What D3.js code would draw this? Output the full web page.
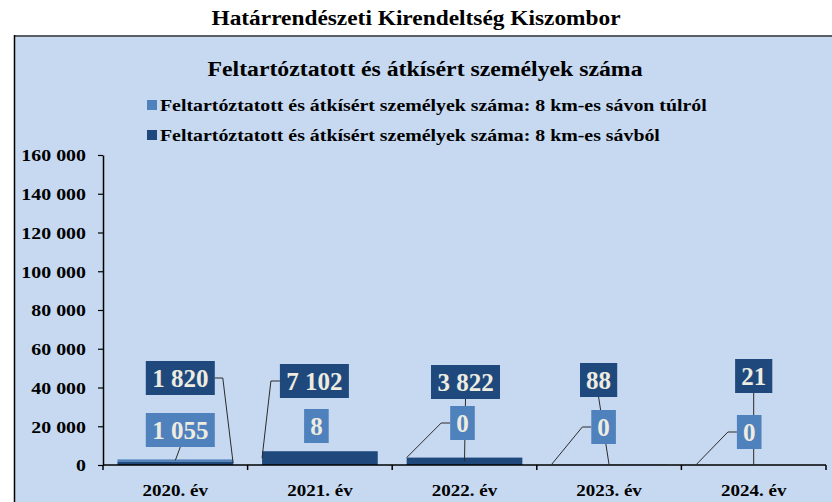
<!DOCTYPE html>
<html>
<head>
<meta charset="utf-8">
<script src="https://cdn.jsdelivr.net/npm/d3@7"></script>
<style>
  body { margin: 0; background: #fff; }
  svg text { font-family: "Liberation Serif", "Times New Roman", serif; font-weight: bold; }
</style>
</head>
<body>
<div id="chart"></div>
<script>
// Adatok
const years = ["2020. év", "2021. év", "2022. év", "2023. év", "2024. év"];
const outerZone = [1055, 8, 0, 0, 0];      // 8 km-es sávon túlról
const innerZone = [1820, 7102, 3822, 88, 21]; // 8 km-es sávból
const yTicks = [0, 20000, 40000, 60000, 80000, 100000, 120000, 140000, 160000];
const seriesNames = [
    "Feltartóztatott és átkísért személyek száma: 8 km-es sávon túlról",
    "Feltartóztatott és átkísért személyek száma: 8 km-es sávból"
];

const width = 832, height = 502;
const margin = { top: 155, right: 6, bottom: 37, left: 103 };
const innerW = width - margin.left - margin.right;
const innerH = height - margin.top - margin.bottom;

const colLight = "#4f81bd", colDark = "#1f497d", labelText = "#eeece1";

const fmt = d3.formatLocale({ decimal: ",", thousands: " ", grouping: [3], currency: ["", ""] }).format(",");

// Szöveg vízszintes nyújtása (az eredeti kép betűi szélesebbek)
function stretch(sel, s) {
    sel.each(function() {
        const t = d3.select(this);
        const tx = +t.attr("x") || 0, ty = +t.attr("y") || 0;
        t.attr("x", 0).attr("y", 0).attr("transform", `translate(${tx},${ty}) scale(${s},1)`);
    });
}

const svg = d3.select("#chart").append("svg")
    .attr("width", width).attr("height", height);

// Háttér (diagramterület)
svg.append("rect")
    .attr("x", 14.5).attr("y", 36)
    .attr("width", 840).attr("height", 500)
    .attr("fill", "#c6d9f1");
svg.append("line").attr("x1", 14).attr("x2", 832).attr("y1", 36).attr("y2", 36)
    .attr("stroke", "#5a5f63").attr("stroke-width", 2);
svg.append("line").attr("x1", 14.5).attr("x2", 14.5).attr("y1", 35).attr("y2", 502)
    .attr("stroke", "#000").attr("stroke-width", 1.5);

// Címek
svg.append("text").attr("x", 416).attr("y", 25).attr("text-anchor", "middle")
    .attr("font-size", 20.5).text("Határrendészeti Kirendeltség Kiszombor")
    .call(stretch, 1.14);
svg.append("text").attr("x", 425).attr("y", 76).attr("text-anchor", "middle")
    .attr("font-size", 22).text("Feltartóztatott és átkísért személyek száma")
    .call(stretch, 1.08);

// Jelmagyarázat
const legend = svg.append("g");
[colLight, colDark].forEach((c, i) => {
    const ly = 105 + i * 30;
    legend.append("rect").attr("x", 147).attr("y", ly - 5).attr("width", 10).attr("height", 10).attr("fill", c);
    legend.append("text").attr("x", 160).attr("y", ly + 6).attr("font-size", 17.5).text(seriesNames[i])
        .call(stretch, 1.135);
});

const g = svg.append("g").attr("transform", `translate(${margin.left},${margin.top})`);

const x = d3.scaleBand().domain(years).range([0, innerW]).paddingInner(0.2).paddingOuter(0.1);
const y = d3.scaleLinear().domain([0, 160000]).range([innerH, 0]);

// Halmozott oszlopok: sávból alul, sávon túlról felül
const rows = years.map((yr, i) => ({ year: yr, inner: innerZone[i], outer: outerZone[i] }));
const stack = d3.stack().keys(["inner", "outer"])(rows);
const colors = { inner: colDark, outer: colLight };

g.selectAll(".series").data(stack).enter().append("g")
    .attr("fill", d => colors[d.key])
    .selectAll("rect").data(d => d).enter().append("rect")
    .attr("x", d => x(d.data.year))
    .attr("width", x.bandwidth())
    .attr("y", d => y(d[1]))
    .attr("height", d => y(d[0]) - y(d[1]));

// Tengelyek
const yAxis = g.append("g").call(d3.axisLeft(y).tickValues(yTicks).tickFormat(fmt).tickSize(5).tickSizeOuter(0));
yAxis.select(".domain").attr("stroke-width", 1.5);
yAxis.selectAll(".tick line").attr("stroke-width", 1.2);
yAxis.selectAll("text").attr("font-size", 17).attr("fill", "#000").attr("x", -17)
    .attr("font-family", "Liberation Serif").attr("dy", "0.35em")
    .call(stretch, 1.17);

const xAxis = g.append("g").attr("transform", `translate(0,${innerH})`);
xAxis.append("line").attr("x1", 0).attr("x2", innerW).attr("stroke", "#000").attr("stroke-width", 1.5);
const step = x.step(), off = x(years[0]) - x.paddingOuter() * step;
d3.range(years.length + 1).forEach(i => {
    xAxis.append("line").attr("x1", off + i * step).attr("x2", off + i * step)
        .attr("y1", 0).attr("y2", 5).attr("stroke", "#000").attr("stroke-width", 1.5);
});
xAxis.selectAll(".cat").data(years).enter().append("text")
    .attr("x", d => x(d) + x.bandwidth() / 2).attr("y", 31)
    .attr("text-anchor", "middle").attr("font-size", 17).text(d => d)
    .call(stretch, 1.12);

// Adatfeliratok elhelyezése (pixel eltolás az oszlop közepéhez és a 0 vonalhoz)
const darkLayout = [
    { dx: 5, dy: -87, lead: "right", ax: 1 },
    { dx: -5.5, dy: -84, lead: "left", ax: 0 },
    { dx: 1, dy: -83, lead: "bottom", ax: 0.5 },
    { dx: -10.5, dy: -85, lead: "bottom", ax: 0.5 },
    { dx: 0, dy: -89, lead: "bottom", ax: 0.5 }
];
const lightLayout = [
    { dx: 5, dy: -35, lead: "bottom", ax: 0.5 },
    { dx: -3.5, dy: -39, lead: "none", ax: 0.5 },
    { dx: -2, dy: -42, lead: "left", ax: 0 },
    { dx: -5.5, dy: -38, lead: "left", ax: 0 },
    { dx: -4.5, dy: -33, lead: "left", ax: 0 }
];

const leaders = g.append("g").attr("stroke", "#2b2b2b").attr("stroke-width", 1).attr("fill", "none");
const labels = g.append("g");

function drawLabels(layer, layout, fill) {
    layer.forEach((seg, i) => {
        const L = layout[i];
        const value = seg[1] - seg[0];
        const text = fmt(value);
        const bx = x(seg.data.year), bw = x.bandwidth();
        const cx = bx + bw / 2 + L.dx, cy = innerH + L.dy;
        const tw = text.length * 12.6 - (text.includes(" ") ? 6 : 0);
        const boxW = tw + 12, boxH = 34;
        const anchorX = bx + bw * L.ax, anchorY = (y(seg[0]) + y(seg[1])) / 2;
        if (L.lead === "bottom") {
            leaders.append("path").attr("d", d3.line()([[cx, cy + boxH / 2], [anchorX, anchorY]]));
        } else if (L.lead === "left") {
            const sx = cx - boxW / 2;
            leaders.append("path").attr("d", d3.line()([[sx, cy], [sx - 9, cy], [anchorX, anchorY]]));
        } else if (L.lead === "right") {
            const sx = cx + boxW / 2;
            leaders.append("path").attr("d", d3.line()([[sx, cy], [sx + 8, cy], [anchorX, anchorY]]));
        }
        labels.append("rect").attr("x", cx - boxW / 2).attr("y", cy - boxH / 2)
            .attr("width", boxW).attr("height", boxH).attr("fill", fill);
        labels.append("text").attr("x", cx).attr("y", cy + 9)
            .attr("text-anchor", "middle").attr("font-size", 25).attr("fill", labelText).text(text);
    });
}
drawLabels(stack[0], darkLayout, colDark);
drawLabels(stack[1], lightLayout, colLight);
</script>
</body>
</html>
